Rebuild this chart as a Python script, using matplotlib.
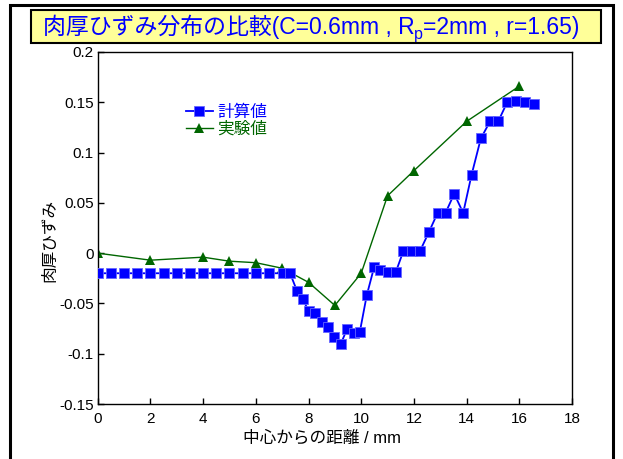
import matplotlib
matplotlib.use('Agg')
import matplotlib.pyplot as plt
from matplotlib.patches import Rectangle

plt.rcParams['font.family'] = ['Liberation Sans', 'Noto Sans CJK JP', 'DejaVu Sans']

# calculated wall-thickness strain (blue squares)
calc_x = [0, 0.5, 1, 1.5, 2, 2.5, 3, 3.5, 4, 4.5, 5, 5.5, 6, 6.5, 7.05, 7.3,
          7.57, 7.78, 8.02, 8.25, 8.5, 8.73, 8.98, 9.23, 9.47, 9.72, 9.95, 10.21,
          10.49, 10.72, 11.03, 11.31, 11.6, 11.92, 12.23, 12.57, 12.9, 13.2, 13.53,
          13.87, 14.19, 14.54, 14.89, 15.2, 15.54, 15.87, 16.21, 16.55]
calc_y = [-0.02] * 16 + [
    -0.038, -0.046, -0.058, -0.060, -0.068, -0.073, -0.083, -0.090, -0.075, -0.079,
    -0.078, -0.042, -0.014, -0.017, -0.019, -0.019, 0.002, 0.002, 0.002, 0.021,
    0.040, 0.040, 0.059, 0.040, 0.078, 0.114, 0.131, 0.131, 0.150, 0.151, 0.150, 0.148]

# measured values (green triangles)
exp_x = [0, 2, 4, 5, 6, 7, 8, 9, 10, 11, 12, 14, 16]
exp_y = [0.0, -0.007, -0.004, -0.008, -0.0095, -0.015, -0.029, -0.052, -0.020,
         0.057, 0.082, 0.131, 0.166]

xticks = [0, 2, 4, 6, 8, 10, 12, 14, 16, 18]
yticks = [-0.15, -0.1, -0.05, 0, 0.05, 0.1, 0.15, 0.2]
ytick_labels = ['-0.15', '-0.1', '-0.05', '0', '0.05', '0.1', '0.15', '0.2']

W, H = 623, 459
fig = plt.figure(figsize=(W / 100, H / 100), dpi=100)
ax = fig.add_axes([97.7 / W, 1 - 404 / H, (572 - 97.7) / W, (404 - 52) / H])

blue = '#0000FF'
green = '#006600'
ax.plot(calc_x, calc_y, color=blue, linewidth=1.3, marker='s', markersize=7,
        markeredgecolor='#6666FF', markeredgewidth=0.6, label='計算値', zorder=3)
ax.plot(exp_x, exp_y, color=green, linewidth=1.0, marker='^', markersize=7.5,
        markeredgewidth=0, label='実験値', zorder=2)

ax.set_xlim(0, 18)
ax.set_ylim(-0.15, 0.2)
ax.set_xticks(xticks)
ax.set_yticks(yticks)
ax.set_yticklabels(ytick_labels)
ax.tick_params(direction='in', length=4, width=1, labelsize=11, pad=3)
ax.tick_params(axis='x', pad=6)
for sp in ax.spines.values():
    sp.set_linewidth(1.0)

ax.set_xlabel('中心からの距離 / mm', fontsize=12)
ax.xaxis.set_label_coords(0.473, -0.075)
ax.set_ylabel('肉厚ひずみ', fontsize=12)
ax.yaxis.set_label_coords(-0.086, 0.465)

leg = ax.legend(loc='upper left', bbox_to_anchor=(0.186, 0.85), frameon=False,
                fontsize=12, handlelength=1.6, handletextpad=0.3,
                labelspacing=0.05, borderpad=0, borderaxespad=0,
                labelcolor='linecolor')

# title box
fig.patches.append(Rectangle((31 / W, 1 - 43 / H), (601 - 31) / W, 33 / H,
                             transform=fig.transFigure, facecolor='#FFFF99',
                             edgecolor='black', linewidth=1.5))

# title text built from pieces so the subscript p can be lowered
title_parts = [('肉厚ひずみ分布の比較(C=0.6mm , R', 16.5, 0),
               ('p', 11.5, -5),
               ('=2mm , r=1.65)', 16.5, 0)]
renderer = fig.canvas.get_renderer()
texts = []
for s, fs, dy in title_parts:
    t = fig.text(0, 0, s, fontsize=fs, color=blue, ha='left', va='baseline')
    texts.append((t, dy))
widths = [t.get_window_extent(renderer).width for t, _ in texts]
x = 311 - sum(widths) / 2
base = 34
for (t, dy), w in zip(texts, widths):
    t.set_position((x / W, 1 - (base - dy) / H))
    x += w

# outer frame
fig.patches.append(Rectangle((10 / W, -0.05), (613 - 10) / W, 1.05 - 5 / H,
                             transform=fig.transFigure, facecolor='none',
                             edgecolor='black', linewidth=2.2, clip_on=False))

fig.savefig('out.png', dpi=100)
